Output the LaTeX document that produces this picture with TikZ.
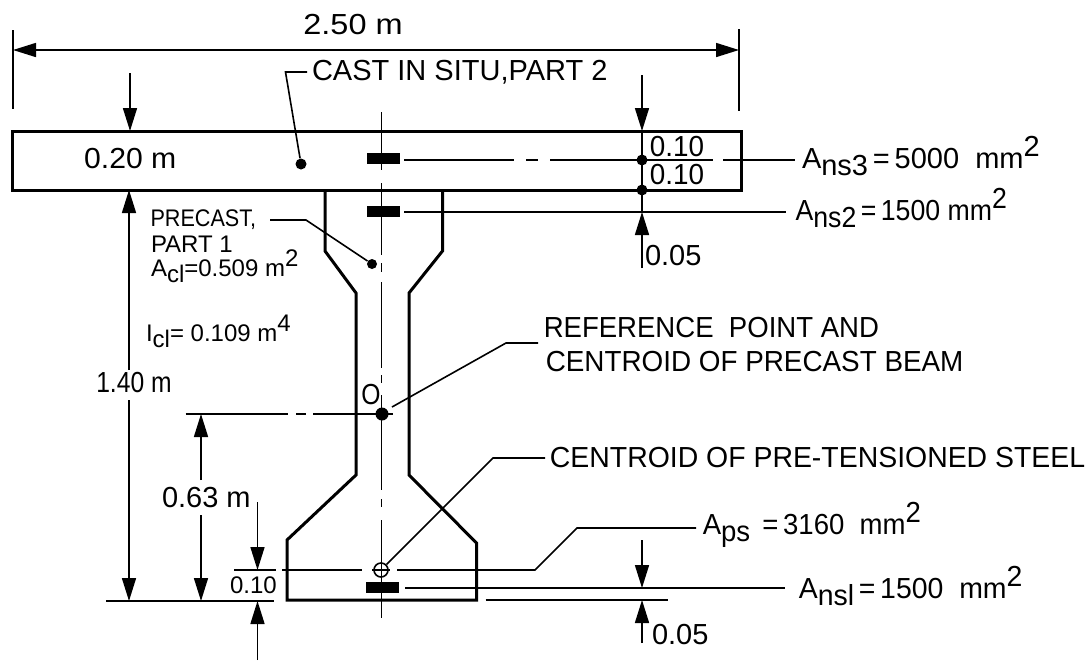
\documentclass[tikz,border=0pt]{standalone}
\usepackage{fontspec}
\setmainfont{Liberation Sans}
\usetikzlibrary{arrows.meta}
\newcommand{\lowtxt}[1]{\raisebox{-.5ex}{#1}}
\newcommand{\hightxt}[1]{\raisebox{.75ex}{#1}}
\tikzset{
  outline/.style={line width=1.5pt},
  leader/.style={line width=.8pt},
  dimline/.style={leader,-{Stealth[length=11.5pt,width=7pt,inset=0pt]}},
  lab/.style={inner sep=0pt,outer sep=2.5pt,anchor=west,font=\fontsize{14.5}{16}\selectfont,transform shape},
  smalllab/.style={lab,font=\fontsize{12}{14}\selectfont},
  dot/.style={circle,fill,inner sep=0pt,minimum size=5.5pt},
  bar/.style={rectangle,fill,inner sep=0pt,minimum width=16.5pt,minimum height=5.5pt}
}
\begin{document}
\begin{tikzpicture}[x=0.5pt,y=-0.5pt]
    \useasboundingbox (0,0) rectangle (1087,660);

    % section outline
    \draw[outline] (12.5,131) rectangle (741,190);
    \draw[outline] (325,190) -- (325,251) -- (356,293) -- (356,475) -- (287,540) -- (287,600) -- (476.5,600) -- (476.5,543) -- (409,475) -- (409,293) -- (442.5,251) -- (442.5,190);

    % centre line
    \foreach \ya/\yb in {112/170,183/255,263/272,282/368,375/383,395/490,499/507,520/618}
        \draw[leader] (381.5,\ya) -- (381.5,\yb);

    % points and bars
    \node[dot] (castdot) at (301,164) {};
    \node[dot,minimum size=5pt] (precastdot) at (372,264) {};
    \node[dot,minimum size=6.5pt] (refdot) at (382,414) {};
    \node[dot] (dotns3) at (642,160) {};
    \node[dot] (dotslab) at (642,190) {};
    \node[bar] (barns3) at (383,158.5) {};
    \node[bar] (barns2) at (383,211) {};
    \node[bar] (barns1) at (382.5,587) {};
    \node[circle,draw,leader,inner sep=0pt,minimum size=7pt] (steel) at (381,570) {};
    \draw[leader] (372,570) -- (390,570);

    % overall width
    \draw[leader] (13,30) -- (13,109);
    \draw[leader] (739,29) -- (739,111);
    \coordinate (widthl) at (13,50);
    \coordinate (widthr) at (739,50);
    \draw[dimline,{Stealth[length=11.5pt,width=7pt,inset=0pt]}-{Stealth[length=11.5pt,width=7pt,inset=0pt]}] (widthl) -- (widthr);
    \node[lab,anchor=center,xscale=1.12] (width) at (353,25) {2.50 m};

    % slab
    \node[lab,xscale=1] (cast) at (307,72) {CAST IN SITU,PART 2};
    \draw[leader] (cast.west) -- (285.5,72) -- (castdot);
    \draw[dimline] (130,73) -- (130,131);
    \node[lab,xscale=1.04] (slabh) at (79,159) {0.20 m};
    \draw[leader] (404,160) -- (514,160);
    \draw[leader] (526,160) -- (538,160);
    \draw[leader] (550,160) -- (713,160);
    \draw[leader] (723,160) -- (795,160);
    \draw[leader] (404,212) -- (786,212);

    % right hand dimensions
    \draw[dimline] (642,75) -- (642,131);
    \draw[leader] (642,131) -- (642,212);
    \draw[dimline] (642,268) -- (642,212);
    \node[lab,xscale=.96] (up) at (645,147) {0.10};
    \node[lab,xscale=.96] (low) at (645,175) {0.10};
    \node[lab] (cover) at (640,256) {0.05};
    \node[lab,anchor=base west,xscale=1.0] (ns3) at (797,168) {A\lowtxt{ns3}\,=\,5000\; mm\hightxt{2}};
    \node[lab,anchor=base west,xscale=.92] (ns2) at (791,220) {A\lowtxt{ns2}\,=\,1500 mm\hightxt{2}};

    % precast labels
    \node[smalllab,xscale=.9] (precast) at (146,220) {PRECAST,};
    \node[smalllab] (part) at (146,244) {PART 1};
    \node[smalllab,anchor=base west] (acl) at (146,276) {A\lowtxt{cl}=0.509 m\hightxt{2}};
    \draw[leader] (270,220) -- (306,220) -- (precastdot);
    \node[smalllab,anchor=base west] (icl) at (141,341) {I\lowtxt{cl}= 0.109 m\hightxt{4}};

    % overall depth
    \draw[dimline] (129,370) -- (129,190);
    \draw[dimline] (129,400) -- (129,601);
    \node[lab,xscale=.85] (depth) at (92,383) {1.40 m};
    \draw[leader] (106,601) -- (274,601);

    % reference point
    \node[lab,xscale=.85] (origin) at (357,395) {O};
    \draw[leader] (185.5,414) -- (288,414);
    \draw[leader] (296,414) -- (306,414);
    \draw[leader] (313,414) -- (393,414);
    \draw[dimline] (201,480) -- (201,414);
    \draw[dimline] (201,515) -- (201,601);
    \node[lab] (eccent) at (157,498) {0.63 m};
    \node[lab,xscale=.95] (refa) at (539,328) {REFERENCE\; POINT AND};
    \node[lab,xscale=.96] (refb) at (541,362) {CENTROID OF PRECAST BEAM};
    \coordinate (refend) at (538,343);
    \draw[leader] (392,407) -- (506,343) -- (refend);

    % steel
    \node[lab,xscale=.98] (cent) at (545,458) {CENTROID OF PRE-TENSIONED STEEL};
    \draw[leader] (cent.west) -- (493,458) -- (steel.north east);
    \draw[leader] (234,570) -- (276,570);
    \draw[leader] (282,570) -- (362,570);
    \coordinate (apsend) at (696,528);
    \draw[leader] (397,570) -- (535,570) -- (577,528) -- (apsend);
    \node[lab,anchor=base west,xscale=.95] (aps) at (698,534) {A\lowtxt{ps}\, =\,3160\; mm\hightxt{2}};
    \draw[leader] (405,588) -- (785,588);
    \draw[leader] (485.5,600) -- (668,600);
    \node[lab,anchor=base west,xscale=.98] (ns1) at (794,598) {A\lowtxt{nsl}\,=\,1500\; mm\hightxt{2}};
    \draw[dimline] (642,540) -- (642,588);
    \draw[dimline] (642,643) -- (642,600);
    \node[lab] (coverb) at (647,635) {0.05};

    % bottom cover
    \node[smalllab] (fill) at (225,585) {0.10};
    \draw[dimline] (257.5,502) -- (257.5,570);
    \draw[dimline] (257.5,660) -- (257.5,601);
\end{tikzpicture}
\end{document}
